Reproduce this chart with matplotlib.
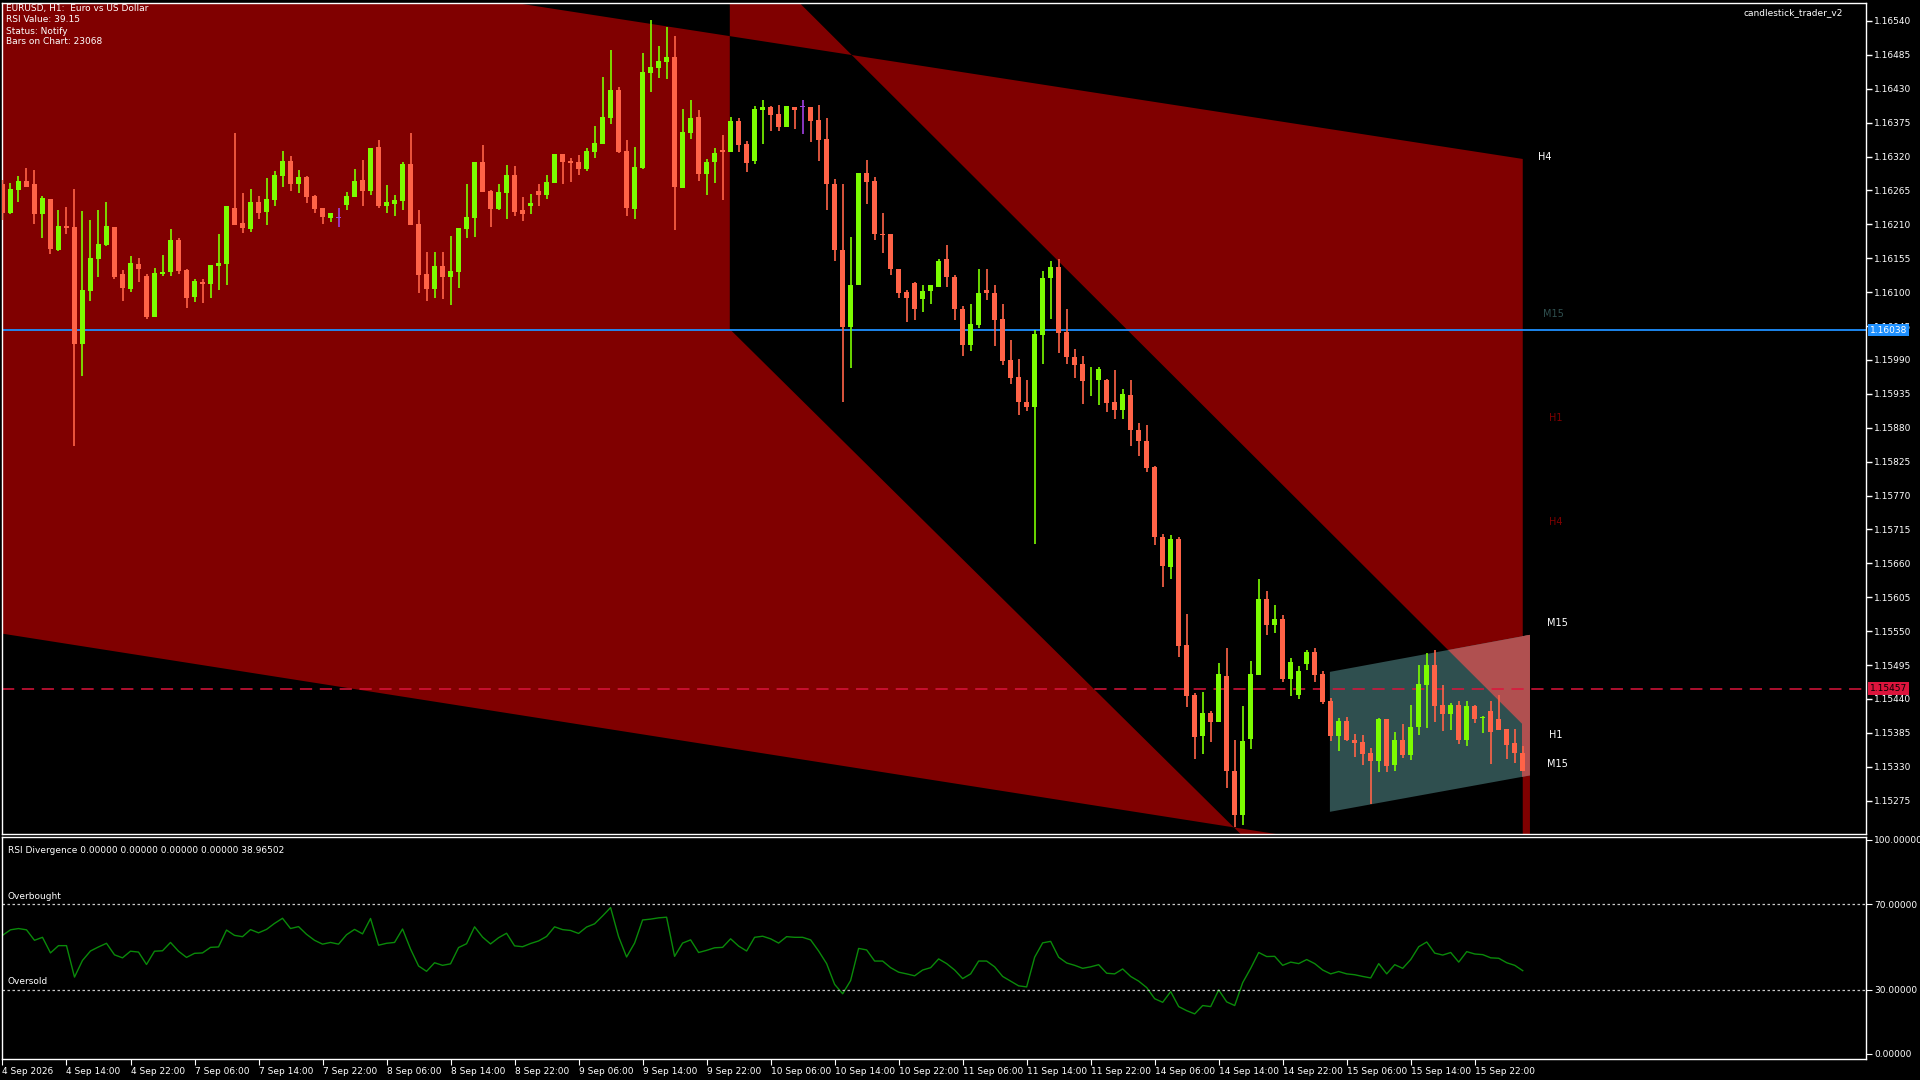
import numpy as np
import matplotlib.pyplot as plt
from matplotlib.patches import Polygon
from matplotlib.transforms import blended_transform_factory

plt.rcParams['font.family'] = ['DejaVu Sans']

# ---- price data (points, 1e-5) -------------------------------------------
OPEN_PTS = [
    116275, 116229, 116266, 116280, 116275, 116227, 116251, 116168, 116207, 116206,
    116016, 116102, 116154, 116176, 116206, 116129, 116105, 116145, 116126, 116060,
    116130, 116133, 116184, 116136, 116092, 116116, 116113, 116143, 116146, 116237,
    116212, 116203, 116246, 116230, 116250, 116289, 116313, 116276, 116287, 116256,
    116236, 116221, 116221, 116242, 116255, 116282, 116264, 116335, 116240, 116243,
    116248, 116308, 116210, 116129, 116105, 116142, 116124, 116132, 116202, 116220,
    116311, 116264, 116235, 116261, 116290, 116233, 116240, 116264, 116257, 116277,
    116324, 116313, 116311, 116300, 116327, 116340, 116382, 116428, 116329, 116235,
    116301, 116455, 116464, 116473, 116481, 116269, 116358, 116384, 116292, 116311,
    116330, 116327, 116378, 116340, 116313, 116395, 116400, 116389, 116368, 116400,
    116400, 116400, 116379, 116348, 116276, 116169, 116044, 116112, 116294, 116281,
    116194, 116194, 116138, 116101, 116115, 116089, 116102, 116109, 116153, 116125,
    116072, 116015, 116046, 116104, 116099, 116057, 115990, 115962, 115922, 115913,
    116030, 116123, 116141, 116035, 115995, 115983, 115957, 115957, 115957, 115921,
    115908, 115933, 115877, 115859, 115816, 115703, 115654, 115699, 115527, 115446,
    115380, 115417, 115403, 115477, 115324, 115252, 115375, 115479, 115602, 115560,
    115570, 115472, 115446, 115497, 115517, 115480, 115436, 115380, 115405, 115374,
    115370, 115352, 115339, 115407, 115333, 115373, 115349, 115395, 115463, 115495,
    115430, 115416, 115430, 115373, 115428, 115409, 115420, 115407, 115391, 115368,
    115353]
HIGH_PTS = [
    116282, 116277, 116288, 116301, 116298, 116256, 116251, 116233, 116238, 116268,
    116231, 116217, 116233, 116246, 116206, 116136, 116158, 116155, 116129, 116139,
    116160, 116202, 116187, 116138, 116121, 116121, 116144, 116194, 116240, 116358,
    116261, 116267, 116256, 116285, 116296, 116329, 116321, 116298, 116288, 116257,
    116236, 116229, 116236, 116262, 116300, 116314, 116334, 116347, 116274, 116257,
    116311, 116358, 116233, 116165, 116165, 116165, 116191, 116204, 116275, 116311,
    116339, 116266, 116275, 116306, 116305, 116254, 116259, 116275, 116290, 116324,
    116324, 116317, 116322, 116334, 116369, 116449, 116493, 116433, 116347, 116335,
    116488, 116541, 116499, 116530, 116516, 116397, 116412, 116395, 116316, 116334,
    116355, 116384, 116382, 116345, 116402, 116412, 116402, 116403, 116402, 116401,
    116411, 116400, 116403, 116382, 116284, 116276, 116190, 116294, 116315, 116287,
    116229, 116195, 116138, 116104, 116117, 116112, 116112, 116154, 116176, 116127,
    116078, 116080, 116138, 116138, 116112, 116080, 116023, 115992, 115957, 116038,
    116135, 116151, 116154, 116073, 116007, 115997, 115978, 115978, 115959, 115973,
    115943, 115957, 115887, 115884, 115818, 115708, 115706, 115702, 115578, 115449,
    115451, 115420, 115498, 115522, 115373, 115428, 115501, 115634, 115615, 115592,
    115576, 115506, 115494, 115519, 115522, 115485, 115442, 115409, 115410, 115383,
    115381, 115360, 115409, 115407, 115387, 115400, 115430, 115495, 115514, 115519,
    115462, 115433, 115436, 115436, 115430, 115413, 115436, 115446, 115391, 115391,
    115363]
LOW_PTS = [
    116217, 116227, 116247, 116271, 116211, 116188, 116162, 116167, 116195, 115851,
    115964, 116086, 116125, 116175, 116121, 116086, 116101, 116116, 116057, 116060,
    116126, 116126, 116130, 116075, 116084, 116083, 116091, 116104, 116112, 116209,
    116196, 116198, 116219, 116209, 116240, 116271, 116264, 116261, 116244, 116229,
    116211, 116214, 116206, 116234, 116255, 116240, 116258, 116237, 116229, 116224,
    116234, 116209, 116099, 116086, 116091, 116089, 116079, 116107, 116188, 116190,
    116262, 116206, 116233, 116219, 116224, 116216, 116226, 116240, 116251, 116277,
    116276, 116279, 116290, 116297, 116318, 116340, 116373, 116326, 116224, 116219,
    116300, 116425, 116448, 116445, 116201, 116269, 116349, 116281, 116258, 116277,
    116250, 116327, 116328, 116295, 116308, 116341, 116361, 116362, 116368, 116364,
    116356, 116343, 116313, 116233, 116150, 115921, 115977, 116111, 116243, 116184,
    116163, 116127, 116090, 116052, 116054, 116068, 116080, 116108, 116109, 116054,
    115996, 116004, 116041, 116088, 116013, 115981, 115951, 115900, 115907, 115692,
    115983, 116056, 116001, 115983, 115960, 115918, 115931, 115917, 115905, 115895,
    115895, 115850, 115834, 115808, 115689, 115621, 115635, 115508, 115427, 115343,
    115351, 115370, 115403, 115296, 115232, 115235, 115359, 115479, 115544, 115547,
    115468, 115445, 115440, 115487, 115468, 115432, 115372, 115356, 115372, 115346,
    115333, 115270, 115321, 115321, 115323, 115344, 115341, 115382, 115393, 115403,
    115388, 115390, 115367, 115364, 115401, 115385, 115334, 115390, 115343, 115336,
    115324]
CLOSE_PTS = [
    116229, 116267, 116280, 116271, 116227, 116253, 116170, 116207, 116204, 116016,
    116103, 116156, 116178, 116207, 116124, 116107, 116147, 116138, 116060, 116131,
    116132, 116184, 116135, 116091, 116118, 116113, 116144, 116147, 116239, 116209,
    116204, 116246, 116229, 116251, 116290, 116313, 116276, 116287, 116255, 116235,
    116222, 116228, 116221, 116256, 116280, 116264, 116334, 116240, 116246, 116249,
    116308, 116209, 116128, 116105, 116142, 116124, 116134, 116204, 116222, 116311,
    116262, 116235, 116262, 116290, 116230, 116227, 116244, 116257, 116279, 116324,
    116311, 116309, 116300, 116329, 116342, 116384, 116428, 116327, 116236, 116303,
    116457, 116465, 116475, 116481, 116270, 116360, 116382, 116292, 116311, 116326,
    116328, 116378, 116339, 116309, 116397, 116400, 116387, 116368, 116402, 116396,
    116400, 116377, 116346, 116275, 116168, 116044, 116112, 116294, 116279, 116194,
    116192, 116137, 116099, 116090, 116072, 116102, 116112, 116151, 116124, 116072,
    116015, 116048, 116099, 116099, 116054, 115989, 115960, 115922, 115913, 116032,
    116123, 116140, 116033, 115994, 115981, 115956, 115958, 115975, 115920, 115908,
    115934, 115876, 115858, 115815, 115702, 115655, 115699, 115526, 115445, 115378,
    115417, 115403, 115480, 115323, 115252, 115372, 115480, 115602, 115560, 115570,
    115472, 115500, 115486, 115517, 115479, 115435, 115380, 115405, 115373, 115369,
    115351, 115339, 115407, 115331, 115374, 115349, 115394, 115464, 115495, 115429,
    115416, 115430, 115373, 115428, 115408, 115410, 115386, 115390, 115365, 115352,
    115324]

rsi = [
    55.4, 58.0, 58.6, 58.0, 53.1, 54.5, 47.2, 50.6, 50.6, 35.9,
    43.7, 48.1, 50.0, 51.7, 46.3, 44.9, 48.0, 47.6, 41.8, 48.0,
    48.2, 52.1, 48.0, 45.1, 47.0, 47.2, 49.8, 50.0, 57.9, 55.4,
    54.8, 58.1, 56.6, 58.2, 61.0, 63.4, 58.6, 59.5, 55.9, 53.1,
    51.3, 52.1, 51.3, 55.7, 58.2, 56.1, 63.3, 50.8, 51.7, 52.1,
    58.4, 49.0, 41.1, 38.6, 42.6, 41.4, 42.1, 49.7, 51.5, 59.4,
    54.6, 51.4, 54.3, 56.4, 50.5, 50.1, 51.6, 52.8, 54.9, 59.4,
    58.1, 57.7, 56.3, 59.3, 60.8, 64.5, 68.4, 54.8, 45.3, 51.8,
    62.6, 63.0, 63.6, 63.9, 45.6, 51.8, 53.3, 47.4, 48.4, 49.6,
    49.8, 53.8, 50.4, 48.1, 54.5, 55.0, 53.8, 51.8, 54.8, 54.5,
    54.5, 53.3, 48.1, 42.2, 32.5, 28.1, 34.3, 49.3, 48.6, 43.4,
    43.4, 40.3, 38.2, 37.4, 36.5, 39.2, 40.3, 44.4, 42.2, 39.2,
    35.2, 37.4, 43.4, 43.4, 40.7, 36.2, 34.0, 31.8, 31.3, 45.2,
    51.9, 52.6, 45.2, 42.5, 41.4, 40.0, 40.7, 41.7, 37.7, 37.4,
    39.7, 36.2, 34.0, 31.0, 25.8, 24.1, 29.1, 22.1, 20.2, 18.7,
    22.6, 22.1, 29.9, 24.3, 22.6, 33.3, 40.0, 47.4, 45.5, 45.6,
    41.4, 42.9, 42.2, 44.1, 42.2, 39.2, 37.4, 38.5, 37.4, 37.0,
    36.2, 35.5, 42.2, 37.4, 41.7, 40.0, 44.1, 50.1, 52.3, 47.1,
    46.2, 47.4, 42.9, 47.8, 46.7, 46.4, 44.9, 44.7, 42.6, 41.4, 38.9]

time_labels = ['4 Sep 2026', '4 Sep 14:00', '4 Sep 22:00', '7 Sep 06:00', '7 Sep 14:00',
               '7 Sep 22:00', '8 Sep 06:00', '8 Sep 14:00', '8 Sep 22:00', '9 Sep 06:00',
               '9 Sep 14:00', '9 Sep 22:00', '10 Sep 06:00', '10 Sep 14:00', '10 Sep 22:00',
               '11 Sep 06:00', '11 Sep 14:00', '11 Sep 22:00', '14 Sep 06:00', '14 Sep 14:00',
               '14 Sep 22:00', '15 Sep 06:00', '15 Sep 14:00', '15 Sep 22:00']
price_ticks = [1.16540, 1.16485, 1.16430, 1.16375, 1.16320, 1.16265, 1.16210, 1.16155,
               1.16100, 1.16045, 1.15990, 1.15935, 1.15880, 1.15825, 1.15770, 1.15715,
               1.15660, 1.15605, 1.15550, 1.15495, 1.15440, 1.15385, 1.15330, 1.15275]
rsi_ticks = [100, 70, 30, 0]

blue_level = 1.16038
bid_level = 1.15457

# drawn objects: (bar, price) anchors
channel_c1 = [(-1, 1.16700), (190, 1.16316), (190, 1.15158), (-1, 1.15548)]
band_s2 = [(90.9, 1.16682), (190.9, 1.15387), (190.9, 1.14757), (90.9, 1.16040)]
above_d1 = [(90.9, 1.16682), (190.9, 1.15387), (190.9, 1.17), (90.9, 1.17)]
strip_end = [(189.9, 1.14), (190.9, 1.14), (190.9, 1.17), (189.9, 1.17)]
teal_box = [(165.9, 1.15484), (190.9, 1.15544), (190.9, 1.15316), (165.9, 1.15257)]

tf_labels = [('H4', 191.9, 1.16319, 'white'), ('M15', 192.5, 1.16065, '#2F4F4F'),
             ('H1', 193.3, 1.15896, '#800000'), ('H4', 193.3, 1.15727, '#800000'),
             ('M15', 193.0, 1.15564, 'white'), ('H1', 193.3, 1.15381, 'white'),
             ('M15', 193.0, 1.15335, 'white')]

opens = np.array(OPEN_PTS) / 1e5
highs = np.array(HIGH_PTS) / 1e5
lows = np.array(LOW_PTS) / 1e5
closes = np.array(CLOSE_PTS) / 1e5
idx = np.arange(len(closes))

RED = '#800000'
W, H = 1920, 1080
fig = plt.figure(figsize=(19.2, 10.8), dpi=100, facecolor='black')
ax = fig.add_axes([2 / W, (H - 834) / H, 1864 / W, 831 / H], facecolor='black')
sub = fig.add_axes([2 / W, (H - 1059) / H, 1864 / W, 222 / H], facecolor='black')

for a in (ax, sub):
    for s in a.spines.values():
        s.set_color('white')
        s.set_linewidth(1)

ax.set_xlim(-0.06, 232.9)
ax.set_ylim(1.15221, 1.16569)
sub.set_xlim(-0.06, 232.9)
sub.set_ylim(-2.4, 101.4)

# ---- channel objects (XOR like MT5 fills) ----------------------------------
c1 = Polygon(channel_c1, closed=True, fc=RED, ec='none', zorder=1)
ax.add_patch(c1)
ax.add_patch(Polygon(band_s2, closed=True, fc=RED, ec='none', zorder=1))
s2b = Polygon(band_s2, closed=True, fc='black', ec='none', zorder=1.1)
ax.add_patch(s2b)
s2b.set_clip_path(c1)

teal = Polygon(teal_box, closed=True, fc='#2F4F4F', ec='none', zorder=1.2)
ax.add_patch(teal)
for pts in (above_d1, strip_end):
    p = Polygon(pts, closed=True, fc='#B05050', ec='none', zorder=1.3)
    ax.add_patch(p)
    p.set_clip_path(teal)

# ---- levels ---------------------------------------------------------------
ax.axhline(blue_level, color='#1E90FF', lw=1.3, zorder=2)
ax.axhline(bid_level, color='#DC143C', lw=1.1, dashes=(8, 5), zorder=2)

# ---- candles --------------------------------------------------------------
colors = np.where(closes > opens, '#7CFC00', np.where(closes < opens, '#FF6347', '#A040E0'))
ax.vlines(idx, lows, highs, colors=colors, lw=1.2, zorder=3)
body = np.abs(closes - opens)
body = np.where(body < 1e-6, 1.2e-5, body)
ax.bar(idx, body, bottom=np.minimum(opens, closes), width=0.62, color=colors,
       linewidth=0, zorder=4)

for txt, x, y, c in tf_labels:
    ax.text(x, y, txt, color=c, fontsize=7, va='center', ha='left', zorder=5)

# ---- price axis -----------------------------------------------------------
ax.yaxis.tick_right()
ax.set_yticks(price_ticks)
ax.set_yticklabels([f'{v:.5f}' for v in price_ticks])
ax.tick_params(axis='y', colors='white', labelsize=6.5, length=4, width=1, pad=2)
ax.set_xticks([])
tr = blended_transform_factory(ax.transAxes, ax.transData)
ax.text(1.002, blue_level, f'{blue_level:.5f}', transform=tr, color='white', fontsize=6.5,
        va='center', ha='left', clip_on=False, zorder=6,
        bbox=dict(fc='#1E90FF', ec='none', pad=1.2))
ax.text(1.002, bid_level, f'{bid_level:.5f}', transform=tr, color='black', fontsize=6.5,
        va='center', ha='left', clip_on=False, zorder=6,
        bbox=dict(fc='#DC143C', ec='none', pad=1.2))

# ---- header texts ---------------------------------------------------------
header = ['EURUSD, H1:  Euro vs US Dollar', 'RSI Value: 39.15', 'Status: Notify',
          'Bars on Chart: 23068']
for k, line in enumerate(header):
    fig.text(6 / W, 1 - (9 + 11 * k) / H, line, color='white', fontsize=6.5, va='center')
fig.text(1843 / W, 1 - 13 / H, 'candlestick_trader_v2', color='white', fontsize=6.5,
         va='center', ha='right')

# ---- RSI sub window --------------------------------------------------------
sub.plot(np.arange(len(rsi)), rsi, color='#0A8A0A', lw=1)
for lvl in (70, 30):
    sub.axhline(lvl, color='#C8C8C8', lw=0.9, ls=(0, (2, 2)))
sub.text(0.003, 71.5, 'Overbought', transform=blended_transform_factory(sub.transAxes, sub.transData),
         color='white', fontsize=6.5, va='bottom')
sub.text(0.003, 31.5, 'Oversold', transform=blended_transform_factory(sub.transAxes, sub.transData),
         color='white', fontsize=6.5, va='bottom')
sub.text(0.003, 0.96, 'RSI Divergence 0.00000 0.00000 0.00000 0.00000 38.96502',
         transform=sub.transAxes, color='white', fontsize=6.5, va='top')
sub.yaxis.tick_right()
sub.set_yticks(rsi_ticks)
sub.set_yticklabels([f'{v:.5f}' for v in rsi_ticks])
sub.tick_params(axis='y', colors='white', labelsize=6.5, length=4, pad=2)
sub.set_xticks(np.arange(len(time_labels)) * 8)
sub.set_xticklabels(time_labels, ha='left')
sub.tick_params(axis='x', colors='white', labelsize=6.5, length=4, pad=2)

fig.savefig('out.png', dpi=100, facecolor='black')
